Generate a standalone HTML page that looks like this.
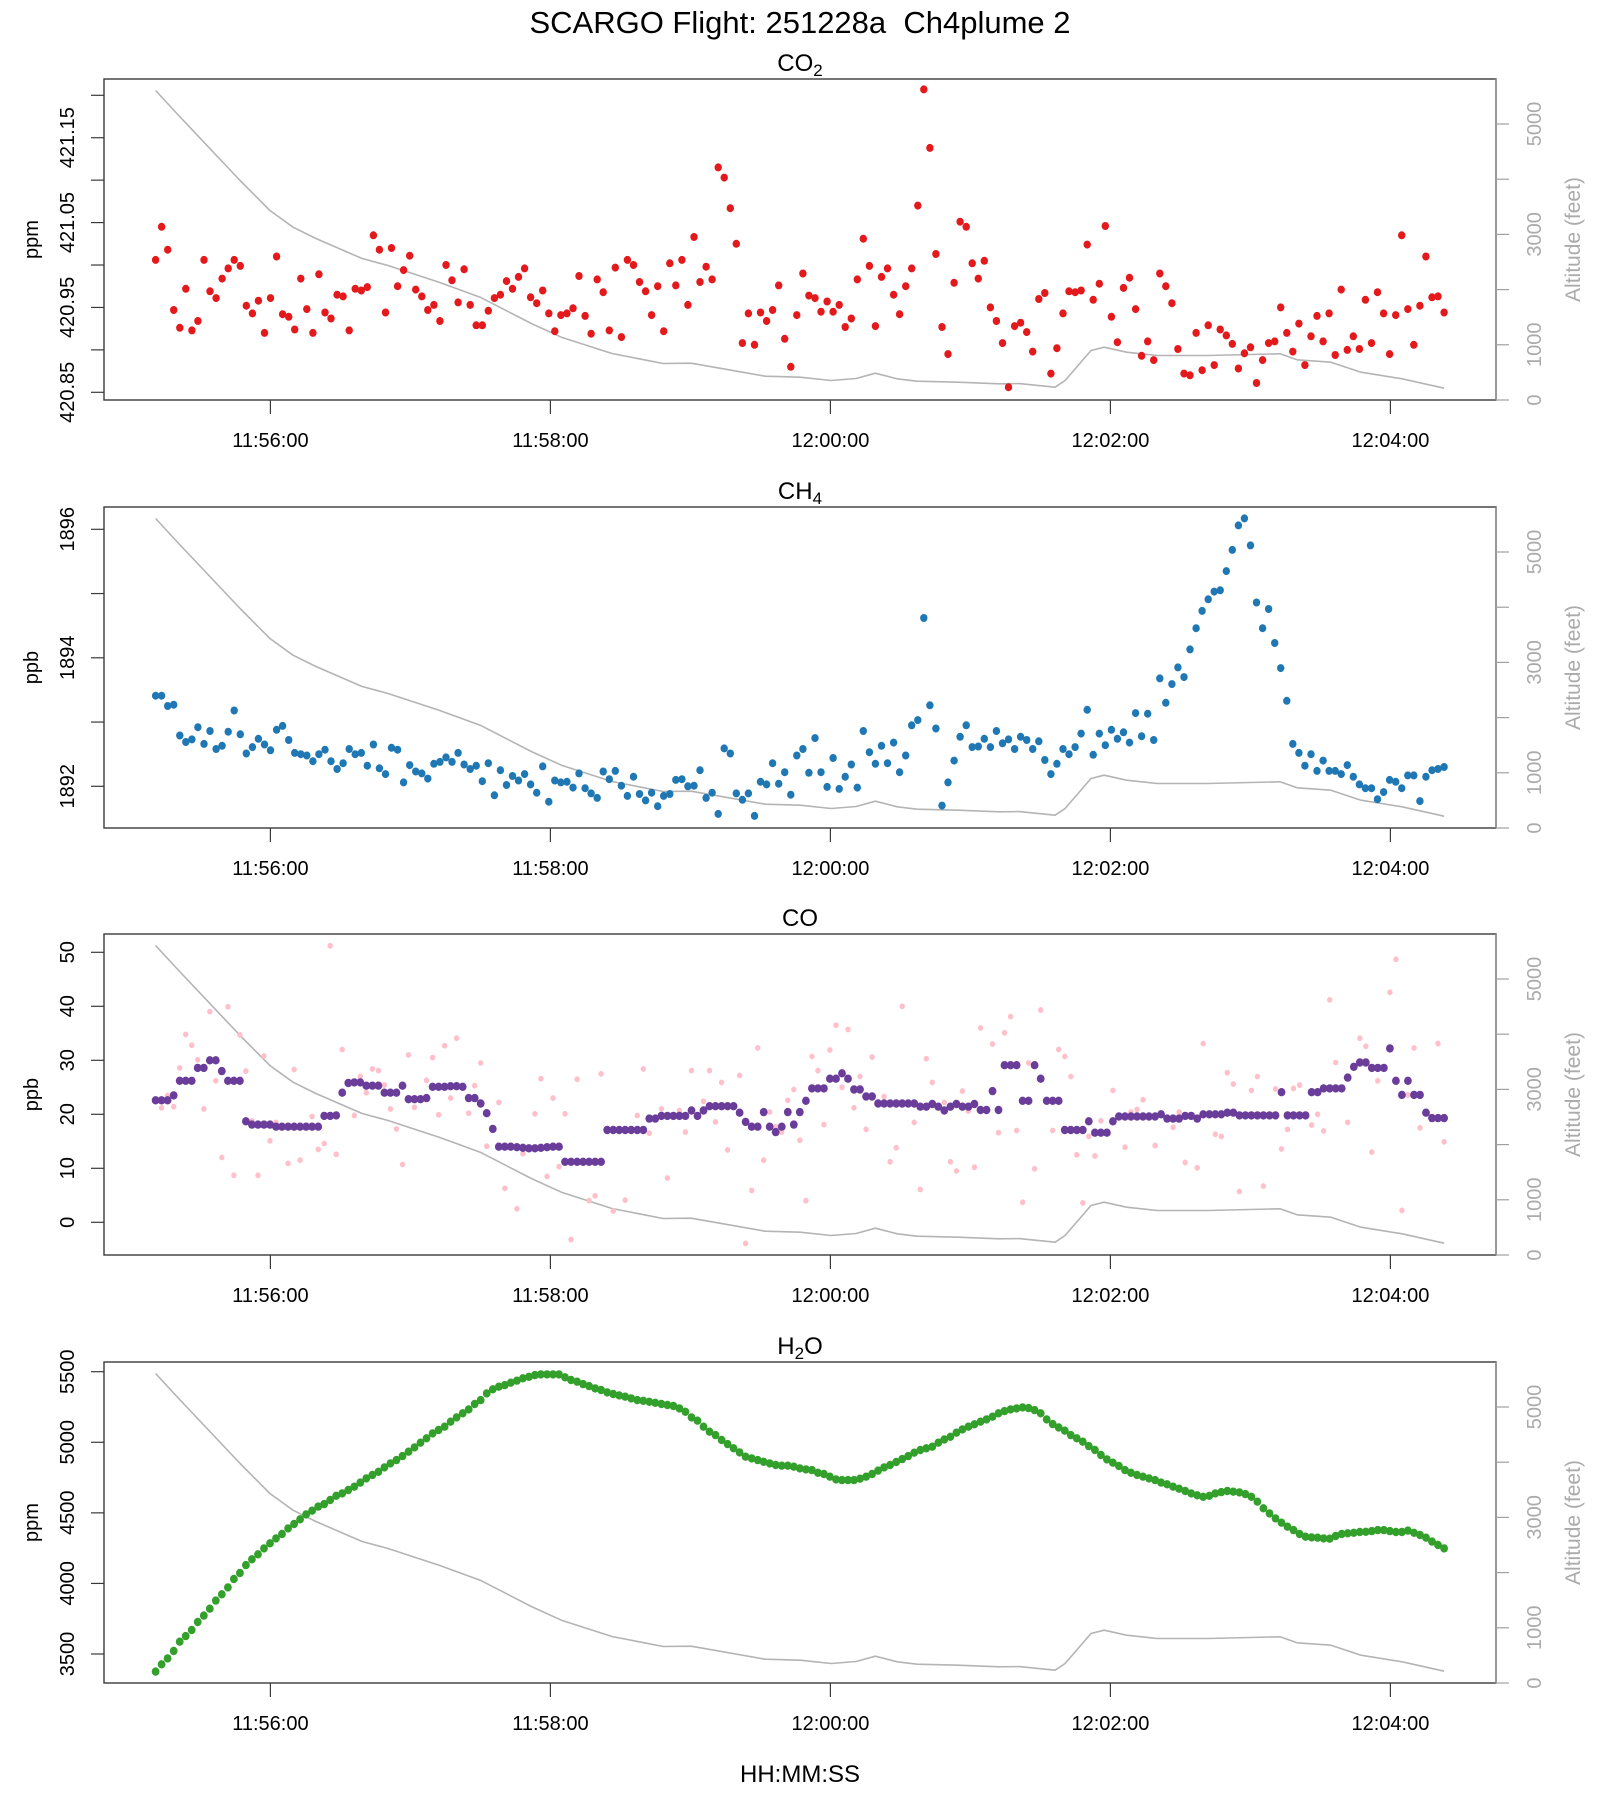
<!DOCTYPE html>
<html><head><meta charset="utf-8"><title>SCARGO Flight 251228a Ch4plume 2</title>
<style>
html,body{margin:0;padding:0;background:#fff;}
svg{display:block;font-family:"Liberation Sans",Arial,sans-serif;}
</style></head>
<body>
<svg id="chart" width="1600" height="1800" viewBox="0 0 1600 1800" xmlns="http://www.w3.org/2000/svg">
<rect width="1600" height="1800" fill="#fff"/>
<text x="800" y="33" text-anchor="middle" font-size="31" style="white-space:pre">SCARGO Flight: 251228a  Ch4plume 2</text>
<text x="800" y="1782" text-anchor="middle" font-size="24">HH:MM:SS</text>
</svg>
<script>
// ---------- data ----------
const timeStartSec = 10.8;   // seconds after 11:55:00
const timeEndSec = 563;
const xTickSeconds = [60, 180, 300, 420, 540];
const xTickLabels = ["11:56:00", "11:58:00", "12:00:00", "12:02:00", "12:04:00"];

const altTimes = [10.8,20.7,47,59.8,69.7,79.5,99.3,110.4,132.3,149.9,171.8,184.7,206.4,228.3,240.3,250.1,272,287,300.3,311,319.3,328.6,337.1,354.7,372.3,380.9,396.3,400.6,411.7,417.3,426.9,440,461.8,492.7,500,514.5,527.4,545,563];
const altFeet = [5607,5154,3976,3433,3130,2925,2563,2437,2134,1862,1385,1138,842,661,667,594,431,413,353,389,486,384,341,322,293,297,232,353,897,957,866,806,806,837,728,685,504,384,214];
const altTicks = [0, 1000, 2000, 3000, 4000, 5000];
const altTickLabels = ["0", "1000", "", "3000", "", "5000"];

const co2Values = [421.006,421.045,421.018,420.947,420.926,420.972,420.923,420.934,421.006,420.969,420.961,420.984,420.996,421.006,420.999,420.952,420.943,420.958,420.920,420.961,421.010,420.942,420.939,420.924,420.984,420.948,420.920,420.989,420.944,420.937,420.965,420.963,420.923,420.972,420.970,420.974,421.035,421.018,420.944,421.020,420.975,420.994,421.011,420.971,420.963,420.947,420.953,420.934,421.000,420.982,420.956,420.995,420.953,420.929,420.929,420.946,420.961,420.965,420.981,420.972,420.986,420.996,420.962,420.955,420.970,420.943,420.922,420.941,420.943,420.949,420.987,420.940,420.919,420.983,420.968,420.923,420.997,420.915,421.006,421.000,420.980,420.969,420.941,420.975,420.922,421.002,420.976,421.006,420.953,421.033,420.980,420.998,420.983,421.115,421.103,421.067,421.025,420.908,420.943,420.906,420.944,420.934,420.947,420.976,420.913,420.880,420.941,
420.990,420.964,420.961,420.945,420.957,420.945,420.953,420.927,420.937,420.983,421.031,420.999,420.928,420.986,420.996,420.965,420.942,420.975,420.996,421.070,421.207,421.138,421.013,420.927,420.895,420.979,421.051,421.045,421.002,420.984,421.005,420.950,420.934,420.908,420.856,420.928,420.932,420.921,420.898,420.960,420.967,420.872,420.902,420.943,420.969,420.968,420.970,421.024,420.959,420.978,421.046,420.939,420.909,420.973,420.985,420.948,420.893,420.910,420.888,420.990,420.975,420.955,420.901,420.872,420.870,420.920,420.876,420.929,420.882,420.924,420.917,420.907,420.878,420.896,420.903,420.861,420.888,420.908,420.910,420.950,420.920,420.898,420.931,420.882,420.916,420.940,420.910,420.943,420.894,420.971,420.900,420.916,420.901,420.959,420.908,420.968,420.943,420.895,420.941,421.035,420.948,420.906,420.952,421.010,420.962,420.963,420.944];
const co2Ticks = [420.85,420.90,420.95,421.00,421.05,421.10,421.15,421.20];
const co2TickLabels = ["420.85","","420.95","","421.05","","421.15",""];

const ch4Values = [1893.41,1893.41,1893.25,1893.27,1892.79,1892.69,1892.73,1892.92,1892.66,1892.86,1892.58,1892.63,1892.85,1893.18,1892.81,1892.51,1892.61,1892.74,1892.65,1892.56,1892.88,1892.94,1892.72,1892.52,1892.50,1892.48,1892.39,1892.50,1892.57,1892.39,1892.27,1892.36,1892.58,1892.50,1892.52,1892.32,1892.65,1892.28,1892.19,1892.60,1892.57,1892.06,1892.33,1892.23,1892.20,1892.12,1892.35,1892.38,1892.45,1892.38,1892.52,1892.34,1892.27,1892.32,1892.08,1892.36,1891.86,1892.25,1892.02,1892.16,1892.09,1892.19,1892.03,1891.90,1892.31,1891.76,1892.09,1892.06,1892.07,1891.98,1892.20,1891.97,1891.89,1891.82,1892.23,1892.11,1892.24,1892.01,1891.85,1892.15,1891.88,1891.78,1891.90,1891.69,1891.85,1891.88,1892.10,1892.11,1892.00,1892.01,1892.25,1891.82,1891.90,1891.57,1892.59,1892.51,1891.89,1891.79,1891.89,1891.54,1892.07,1892.03,1892.36,1892.04,1892.22,1891.87,1892.48,
1892.58,1892.21,1892.75,1892.22,1891.99,1892.44,1891.96,1892.15,1892.34,1891.98,1892.86,1892.53,1892.35,1892.63,1892.36,1892.68,1892.22,1892.48,1892.95,1893.03,1894.62,1893.26,1892.90,1891.70,1892.06,1892.40,1892.77,1892.95,1892.61,1892.62,1892.74,1892.61,1892.86,1892.67,1892.73,1892.58,1892.77,1892.72,1892.58,1892.70,1892.41,1892.19,1892.35,1892.58,1892.50,1892.61,1892.82,1893.19,1892.49,1892.82,1892.64,1892.88,1892.74,1892.84,1892.68,1893.14,1892.78,1893.13,1892.72,1893.68,1893.30,1893.59,1893.85,1893.70,1894.13,1894.46,1894.73,1894.91,1895.03,1895.05,1895.35,1895.68,1896.06,1896.17,1895.75,1894.86,1894.46,1894.76,1894.23,1893.84,1893.33,1892.66,1892.52,1892.32,1892.50,1892.24,1892.40,1892.24,1892.24,1892.19,1892.33,1892.15,1892.03,1891.97,1891.97,1891.80,1891.91,1892.10,1892.07,1891.97,1892.17,1892.17,1891.77,1892.15,1892.25,1892.27,1892.30];
const ch4Ticks = [1892,1893,1894,1895,1896];
const ch4TickLabels = ["1892","","1894","","1896"];

const coAvgValues = [22.6,22.6,22.6,23.5,26.2,26.2,26.2,28.6,28.6,30,30,28,26.2,26.2,26.2,18.7,18.1,18.1,18.1,18.1,17.7,17.7,17.7,17.7,17.7,17.7,17.7,17.7,19.7,19.7,19.8,24,25.8,25.9,25.9,25.3,25.3,25.3,24,24,24,25.3,22.8,22.8,22.8,23,25.1,25.1,25.1,25.2,25.2,25.1,23,23,22,20.2,17.3,14,14,14,13.9,13.8,13.7,13.7,13.8,13.9,14,14,11.2,11.2,11.2,11.2,11.2,11.2,11.2,17.1,17.1,17.1,17.1,17.1,17.1,17.1,19.2,19.2,19.7,19.7,19.7,19.7,19.7,20.7,19.7,20.7,21.5,21.5,21.5,21.5,21.5,20.3,18.6,17.7,17.7,20.4,17.7,16.7,17.7,20.4,18.1,
20.4,22.5,24.8,24.8,24.8,26.6,26.6,27.6,26.6,24.6,24.6,23.3,23.3,22,22,22,22,22,22,22,21.4,21.4,21.9,21.4,20.7,21.4,21.9,21.4,21.4,21.9,20.8,20.8,24.3,20.8,29.1,29.1,29.1,22.5,22.5,29.1,26.6,22.5,22.5,22.5,17.1,17.1,17.1,17.1,18.7,16.6,16.6,16.6,18.7,19.6,19.6,19.6,19.6,19.6,19.6,19.6,20,19.2,19.2,19.2,19.7,19.7,19.2,20,20,20,20,20.3,20.3,19.8,19.8,19.8,19.8,19.8,19.8,19.8,24.1,19.8,19.8,19.8,19.8,24.1,24.1,24.8,24.8,24.8,24.8,26.8,28.8,29.6,29.6,28.6,28.6,28.6,32.2,26.2,23.6,26.2,23.6,23.6,20.3,19.3,19.3,19.3];
const coRawValues = [null,21.2,23.5,21.4,28.6,34.8,32.8,30.1,21.0,39.0,26.2,12.0,39.9,8.7,34.7,28.0,18.8,8.7,30.8,15.1,18.5,null,10.9,28.3,11.5,null,19.6,13.5,14.6,51.2,12.6,32.0,null,19.8,27.0,24.0,28.4,28.1,25.4,21.0,17.3,10.7,31.0,21.3,null,26.3,30.5,19.9,32.7,23.0,34.1,null,20.2,25.3,29.5,14.1,null,22.2,6.3,null,2.5,12.7,null,20.1,26.6,8.5,23.0,10.3,20.1,-3.2,26.5,null,4.0,4.9,27.5,null,2.1,null,4.1,null,19.8,28.4,16.5,null,21.0,8.2,null,20.7,16.7,28.1,null,22.4,28.1,18.6,25.9,13.4,null,27.2,-3.9,5.9,32.3,11.5,20.4,17.7,16.7,22.6,24.6,15.2,4.0,30.7,28.1,18.1,31.9,36.5,25.0,35.7,21.2,27.0,17.2,30.6,null,23.3,11.2,13.8,40.0,null,18.5,6.1,30.3,25.9,null,22.2,11.2,9.5,24.3,20.6,10.2,36.0,null,33.0,16.6,35.1,38.1,17.0,3.7,29.5,9.9,39.3,null,17.0,32.0,30.7,27.0,12.5,3.6,15.9,12.3,18.8,null,24.4,null,13.9,20.4,20.9,22.7,null,14.2,null,null,17.6,20.4,11.1,null,10.1,33.1,null,16.3,15.9,27.7,25.6,5.7,null,24.4,27.0,6.7,null,24.7,13.6,17.2,24.8,25.4,null,18.0,20.0,16.9,41.2,29.6,null,18.5,null,34.1,32.6,13.0,26.2,null,42.6,48.7,2.2,23.6,32.3,17.5,null,null,33.1,14.9];
const coTicks = [0,10,20,30,40,50];
const coTickLabels = ["0","10","20","30","40","50"];

const h2oValues = [3375,3427,3469,3521,3587,3627,3670,3727,3772,3821,3878,3923,3972,4031,4074,4130,4171,4206,4248,4284,4319,4350,4390,4421,4454,4489,4515,4544,4562,4591,4621,4638,4662,4685,4714,4744,4768,4791,4822,4850,4874,4902,4933,4964,4997,5028,5063,5087,5110,5146,5176,5205,5233,5271,5299,5346,5375,5394,5405,5422,5436,5453,5464,5476,5481,5481,5481,5481,5460,5441,5429,5412,5398,5382,5370,5353,5342,5332,5323,5311,5299,5294,5287,5280,5271,5264,5257,5240,5216,5176,5153,5110,5075,5051,5016,4987,4957,4928,4898,4886,4874,4862,4850,4839,4834,4834,4827,
4815,4808,4803,4784,4775,4756,4737,4732,4732,4732,4742,4756,4775,4799,4822,4839,4860,4881,4902,4926,4945,4957,4969,4997,5020,5039,5068,5091,5110,5127,5146,5162,5181,5205,5221,5233,5240,5247,5242,5228,5205,5162,5129,5105,5082,5051,5028,5004,4973,4945,4910,4879,4855,4832,4803,4784,4768,4756,4744,4732,4714,4702,4685,4671,4655,4638,4624,4614,4621,4638,4647,4655,4650,4645,4633,4614,4579,4532,4496,4461,4430,4402,4378,4350,4331,4326,4324,4319,4317,4336,4350,4355,4359,4364,4366,4371,4378,4378,4371,4364,4364,4374,4359,4343,4324,4296,4272,4248];
const h2oTicks = [3500,4000,4500,5000,5500];
const h2oTickLabels = ["3500","4000","4500","5000","5500"];

// ---------- layout ----------
const NS = "http://www.w3.org/2000/svg";
const svg = document.getElementById("chart");
const plotLeft = 104, plotRight = 1496, plotH = 321;
function xScale(sec){ return 270.4 + (sec - 60) * (280 / 120); }
function seriesTime(i, n){ return timeStartSec + i * (timeEndSec - timeStartSec) / (n - 1); }

function mk(tag, attrs, parent){
  const el = document.createElementNS(NS, tag);
  for (const k in attrs) el.setAttribute(k, attrs[k]);
  (parent || svg).appendChild(el);
  return el;
}

const panels = [
  {key:"co2", top:79, v0:420.85, y0:392.3, v1:421.20, y1:95.3, ticks:co2Ticks, labels:co2TickLabels, unit:"ppm", title:"CO", sub:"2"},
  {key:"ch4", top:507, v0:1892, y0:786.3, v1:1896, y1:529.3, ticks:ch4Ticks, labels:ch4TickLabels, unit:"ppb", title:"CH", sub:"4"},
  {key:"co", top:934, v0:0, y0:1222.3, v1:50, y1:952.3, ticks:coTicks, labels:coTickLabels, unit:"ppb", title:"CO", sub:""},
  {key:"h2o", top:1362, v0:3500, y0:1654, v1:5500, y1:1371.7, ticks:h2oTicks, labels:h2oTickLabels, unit:"ppm", title:"H", sub:"2", tail:"O"}
];

panels.forEach(function(p){
  const bottom = p.top + plotH;
  const yS = function(v){ return p.y0 + (v - p.v0) * (p.y1 - p.y0) / (p.v1 - p.v0); };
  const altS = function(a){ return bottom - a * 0.0552; };
  const g = mk("g", {});
  
  

  const t = mk("text", {x:800, y:p.top - 8, "text-anchor":"middle", "font-size":24}, g);
  
  
  t.appendChild(document.createTextNode(p.title));
  if (p.sub) {
    const s = mk("tspan", {"font-size":17, dy:5}, t);
    s.textContent = p.sub;
  }
  if (p.tail) {
    const s2 = mk("tspan", {dy:-5}, t);
    s2.textContent = p.tail;
  }

  let d = "";
  for (let i = 0; i < altTimes.length; i++) {
    d += (i ? "L" : "M") + xScale(altTimes[i]).toFixed(1) + "," + altS(altFeet[i]).toFixed(1);
  }
  const al = mk("path", {d:d, fill:"none", stroke:"#b4b4b4", "stroke-width":1.6, "stroke-linejoin":"round"}, g);
  
  

  const pts = mk("g", {}, g);
  
  
  function drawSeries(vals, color, r, nameTag){
    for (let i = 0; i < vals.length; i++) {
      if (vals[i] === null) continue;
      const c = mk("ellipse", {cx:xScale(seriesTime(i, vals.length)).toFixed(1), cy:yS(vals[i]).toFixed(1), rx:r, ry:r*1.08, fill:color}, pts);
      
      
    }
  }
  if (p.key === "co2") drawSeries(co2Values, "#e3191c", 3.7, "co2-point");
  if (p.key === "ch4") drawSeries(ch4Values, "#1f78b4", 3.7, "ch4-point");
  if (p.key === "co") { drawSeries(coRawValues, "#ffc0cb", 2.7, "co-raw-point"); drawSeries(coAvgValues, "#6a3d9a", 3.9, "co-avg-point"); }
  if (p.key === "h2o") drawSeries(h2oValues, "#33a02c", 3.9, "h2o-point");

  const fr = mk("rect", {x:plotLeft, y:p.top, width:plotRight - plotLeft, height:plotH, fill:"none", stroke:"#3a3a3a", "stroke-width":1.4}, g);
  
  
  const rl = mk("line", {x1:plotRight, y1:p.top, x2:plotRight, y2:bottom, stroke:"#909090", "stroke-width":1.4}, g);
  
  

  for (let i = 0; i < p.ticks.length; i++) {
    const y = yS(p.ticks[i]);
    const tk = mk("line", {x1:plotLeft - 13, y1:y, x2:plotLeft, y2:y, stroke:"#3a3a3a", "stroke-width":1.2}, g);
    
    
    if (p.labels[i]) {
      const lb = mk("text", {x:0, y:0, transform:"translate(74," + y.toFixed(1) + ") rotate(-90)", "text-anchor":"middle", "font-size":20}, g);
      
      
      lb.textContent = p.labels[i];
    }
  }
  const yt = mk("text", {x:0, y:0, transform:"translate(38," + (p.top + plotH / 2) + ") rotate(-90)", "text-anchor":"middle", "font-size":20}, g);
  
  
  yt.textContent = p.unit;

  for (let i = 0; i < altTicks.length; i++) {
    const y = altS(altTicks[i]);
    const tk = mk("line", {x1:plotRight, y1:y, x2:plotRight + 13, y2:y, stroke:"#a0a0a0", "stroke-width":1.2}, g);
    
    
    if (altTickLabels[i]) {
      const lb = mk("text", {x:0, y:0, transform:"translate(1541," + y.toFixed(1) + ") rotate(-90)", "text-anchor":"middle", "font-size":20, fill:"#ababab"}, g);
      
      
      lb.textContent = altTickLabels[i];
    }
  }
  const at = mk("text", {x:0, y:0, transform:"translate(1580," + (p.top + plotH / 2) + ") rotate(-90)", "text-anchor":"middle", "font-size":21, fill:"#ababab"}, g);
  
  
  at.textContent = "Altitude (feet)";

  for (let i = 0; i < xTickSeconds.length; i++) {
    const x = xScale(xTickSeconds[i]);
    const tk = mk("line", {x1:x, y1:bottom, x2:x, y2:bottom + 14, stroke:"#3a3a3a", "stroke-width":1.2}, g);
    
    
    const lb = mk("text", {x:x, y:bottom + 47, "text-anchor":"middle", "font-size":20}, g);
    
    
    lb.textContent = xTickLabels[i];
  }
});
</script>
</body></html>
